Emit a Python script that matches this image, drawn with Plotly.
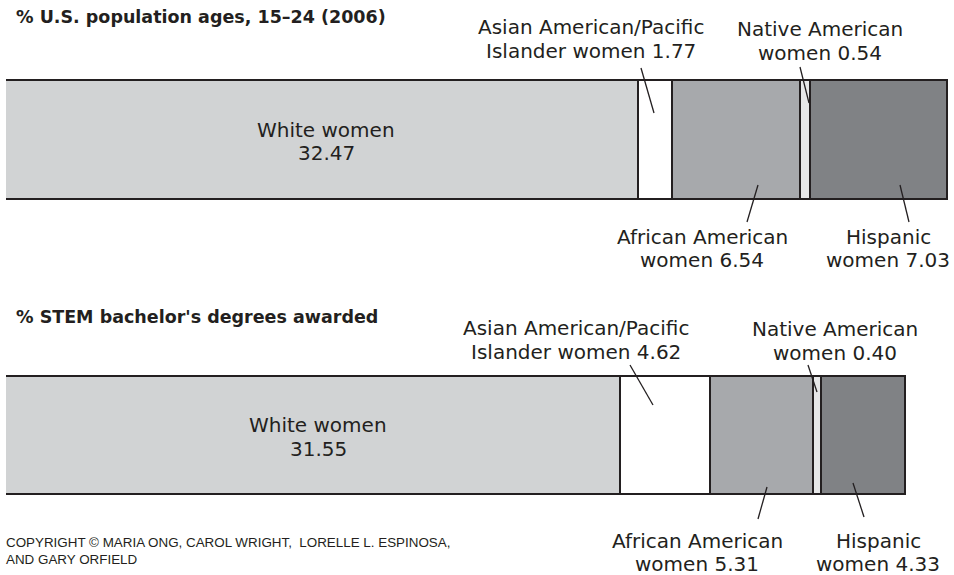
import plotly.graph_objects as go

# ---------------- data ----------------
categories = ["White women", "Asian American/Pacific Islander women",
              "African American women", "Native American women", "Hispanic women"]
population_pct = [32.47, 1.77, 6.54, 0.54, 7.03]   # % U.S. population ages 15-24 (2006)
stem_pct = [31.55, 4.62, 5.31, 0.40, 4.33]         # % STEM bachelor's degrees awarded
label_line1 = ["White women", "Asian American/Pacific", "African American",
               "Native American", "Hispanic"]
label_line2 = ["", "Islander women", "women", "women", "women"]
panel_titles = ["% U.S. population ages, 15\u201324 (2006)",
                "% STEM bachelor's degrees awarded"]
copyright_text = ("COPYRIGHT \u00a9 MARIA ONG, CAROL WRIGHT,  LORELLE L. ESPINOSA,<br>"
                  "AND GARY ORFIELD")

# ---------------- style ----------------
W, H = 954, 575
ML, MR = 6, 6
seg_colors = ["#d1d3d4", "#ffffff", "#a7a9ac", "#e6e7e8", "#808285"]
edge = "#231f20"
LABEL_FONT = dict(family="DejaVu Sans", size=20, color=edge)
TITLE_FONT = dict(family="DejaVu Sans", size=17.5, color=edge)
Y_TOP, Y_BOT = 140.5, 436
BAR_W = [119, 118]

xmax = max(sum(population_pct), sum(stem_pct))
plot_w = W - ML - MR


def px2paper(px):
    return (px - ML) / plot_w


fig = go.Figure()
for i, cat in enumerate(categories):
    fig.add_trace(go.Bar(
        y=[Y_TOP, Y_BOT], x=[population_pct[i], stem_pct[i]], orientation="h",
        width=BAR_W, name=cat,
        marker=dict(color=seg_colors[i], line=dict(color=edge, width=1.6)),
        hoverinfo="x+name", showlegend=False))

annotations = []
shapes = []


def add_text(text, px_x, y, font, xanchor="center", xref="paper", xval=None, xshift=0):
    annotations.append(dict(
        text=text, x=(xval if xval is not None else px2paper(px_x)),
        xref=xref, y=y, yref="y", showarrow=False, xanchor=xanchor,
        yanchor="middle", font=font, xshift=xshift, align="left"))


def two_lines(i, values, px_x, y1, y2, xref="paper", xval=None, xshift=0):
    v = f"{values[i]:.2f}"
    l2 = (label_line2[i] + " " + v).strip()
    add_text(label_line1[i], px_x, y1, LABEL_FONT, xref=xref, xval=xval, xshift=xshift)
    add_text(l2, px_x, y2, LABEL_FONT, xref=xref, xval=xval, xshift=xshift)


def leader(p0, p1):
    shapes.append(dict(type="line", xref="paper", yref="y",
                       x0=px2paper(p0[0]), y0=p0[1], x1=px2paper(p1[0]), y1=p1[1],
                       line=dict(color=edge, width=1.3)))


# titles
add_text("<b>" + panel_titles[0] + "</b>", 14, 17, TITLE_FONT, xanchor="left")
add_text("<b>" + panel_titles[1] + "</b>", 14, 317, TITLE_FONT, xanchor="left")

# --- top bar labels ---
two_lines(0, population_pct, None, 130, 153, xref="x", xval=population_pct[0] / 2, xshift=4)
two_lines(1, population_pct, 591, 27, 51)
two_lines(3, population_pct, 820, 29, 53)
two_lines(2, population_pct, 702, 237, 260)
two_lines(4, population_pct, 888, 237, 260)
leader((641, 68), (654, 113))
leader((800, 67), (809, 103))
leader((758, 185), (747, 222))
leader((900, 185), (909, 222))

# --- bottom bar labels ---
two_lines(0, stem_pct, None, 425, 449, xref="x", xval=stem_pct[0] / 2, xshift=5)
two_lines(1, stem_pct, 576, 328, 352)
two_lines(3, stem_pct, 834.5, 329, 353)
two_lines(2, stem_pct, 697, 541, 564)
two_lines(4, stem_pct, 878, 541, 564)
leader((630, 365), (653, 405))
leader((808, 365), (817, 392))
leader((767, 487), (758, 519))
leader((853, 483), (864, 517))

# copyright
annotations.append(dict(
    text=copyright_text, x=px2paper(4), xref="paper", y=551, yref="y",
    showarrow=False, xanchor="left", yanchor="middle", align="left",
    font=dict(family="Liberation Sans, Arial", size=13.4, color=edge)))

fig.update_layout(
    width=W, height=H, barmode="stack",
    margin=dict(l=ML, r=MR, t=0, b=0, pad=0),
    paper_bgcolor="white", plot_bgcolor="white",
    xaxis=dict(range=[0, xmax], visible=False, fixedrange=True),
    yaxis=dict(range=[H, 0], visible=False, fixedrange=True),
    annotations=annotations, shapes=shapes,
    bargap=0,
)

fig.write_html(
    "out.html",
    config={"displayModeBar": False},
    post_script="document.body.style.margin='0';document.body.style.overflow='hidden';",
)
